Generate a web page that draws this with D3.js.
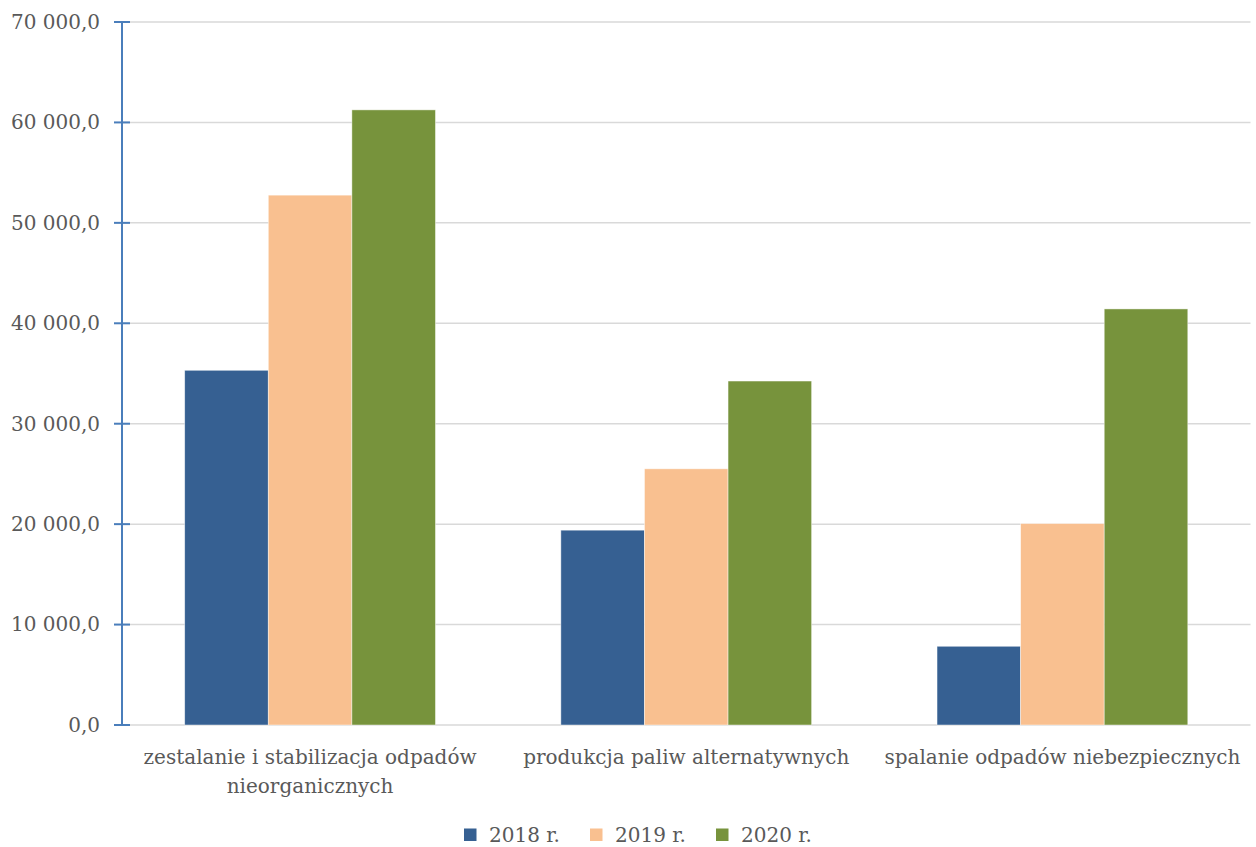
<!DOCTYPE html>
<html><head><meta charset="utf-8">
<script src="https://cdn.jsdelivr.net/npm/d3@7"></script>
<style>
html,body{margin:0;padding:0;background:#fff;}
svg{display:block;}
text{font-family:"DejaVu Serif","Liberation Serif",serif;fill:#595959;}
</style></head>
<body><svg id="c" width="1256" height="847"></svg>
<script>
const categories = [
  ["zestalanie i stabilizacja odpadów", "nieorganicznych"],
  ["produkcja paliw alternatywnych"],
  ["spalanie odpadów niebezpiecznych"]
];
const seriesNames = ["2018 r.", "2019 r.", "2020 r."];
const values2018 = [35320, 19400, 7840];
const values2019 = [52760, 25510, 20060];
const values2020 = [61250, 34250, 41430];
const yTicks = [0, 10000, 20000, 30000, 40000, 50000, 60000, 70000];
const colors = ["#366092", "#f9c090", "#77933c"];

const series = [values2018, values2019, values2020];
const svg = d3.select("#c");
const m = {left: 122, right: 1250.5, top: 22, bottom: 725};

const x0 = d3.scaleBand().domain(d3.range(categories.length)).range([m.left, m.right]).paddingInner(0).paddingOuter(0);
const x1 = d3.scaleBand().domain(d3.range(series.length)).range([0, x0.bandwidth()]).paddingOuter(0.75).paddingInner(0);
const y = d3.scaleLinear().domain([0, 70000]).range([m.bottom, m.top]);

const fmt = v => {
  const s = d3.format(",.1f")(v);
  return s.replace(/,/g, " ").replace(".", ",");
};
const FS = "20px";

// gridlines
svg.append("g").selectAll("line").data(yTicks).join("line")
  .attr("x1", m.left).attr("x2", m.right)
  .attr("y1", d => y(d)).attr("y2", d => y(d))
  .attr("stroke", "#d9d9d9").attr("stroke-width", 1.5);

// bars
const g = svg.append("g");
categories.forEach((c, ci) => {
  series.forEach((s, si) => {
    g.append("rect")
      .attr("x", x0(ci) + x1(si))
      .attr("y", y(s[ci]))
      .attr("width", x1.bandwidth())
      .attr("height", y(0) - y(s[ci]))
      .attr("fill", colors[si])
      .attr("stroke", "rgba(255,255,255,0.6)").attr("stroke-width", 0.75);
  });
});

// y axis
const yAxis = d3.axisLeft(y).tickValues(yTicks).tickFormat(fmt).tickSize(0).tickPadding(22);
const ya = svg.append("g").attr("transform", `translate(${m.left},0)`).call(yAxis);
ya.select(".domain").remove();
ya.selectAll("text").style("font-size", FS).attr("fill", "#595959").style("font-family", '"DejaVu Serif",serif');
svg.append("line").attr("x1", m.left).attr("x2", m.left).attr("y1", y(70000)).attr("y2", y(0))
  .attr("stroke", "#4a7ebb").attr("stroke-width", 2);
svg.append("g").selectAll("line").data(yTicks).join("line")
  .attr("x1", m.left - 8).attr("x2", m.left + 8)
  .attr("y1", d => y(d)).attr("y2", d => y(d))
  .attr("stroke", "#4a7ebb").attr("stroke-width", 2);

// x labels
categories.forEach((c, ci) => {
  const t = svg.append("text").attr("text-anchor", "middle").style("font-size", FS)
    .attr("x", x0(ci) + x0.bandwidth() / 2).attr("y", 764);
  c.forEach((line, li) => {
    t.append("tspan").attr("x", x0(ci) + x0.bandwidth() / 2).attr("dy", li === 0 ? 0 : 28.5).text(line);
  });
});

// legend
const legX = [464, 590, 716];
seriesNames.forEach((n, i) => {
  svg.append("rect").attr("x", legX[i]).attr("y", 828.5).attr("width", 12.5).attr("height", 12.5).attr("fill", colors[i]);
  svg.append("text").attr("x", legX[i] + 25).attr("y", 842).style("font-size", FS).text(n);
});
</script></body></html>
